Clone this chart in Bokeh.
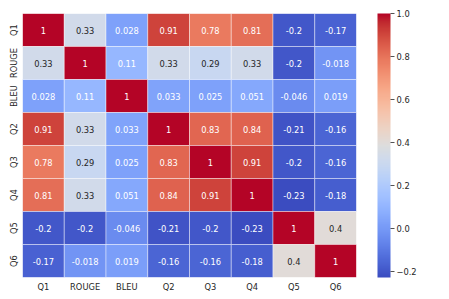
import numpy as np
from bokeh.plotting import figure
from bokeh.models import ColumnDataSource, LinearColorMapper, ColorBar, FixedTicker
from bokeh.embed import file_html
from bokeh.resources import INLINE
from bokeh.core.properties import value

labels = ["Q1", "ROUGE", "BLEU", "Q2", "Q3", "Q4", "Q5", "Q6"]
corr = [
    [1.0, 0.33, 0.028, 0.91, 0.78, 0.81, -0.2, -0.17],
    [0.33, 1.0, 0.11, 0.33, 0.29, 0.33, -0.2, -0.018],
    [0.028, 0.11, 1.0, 0.033, 0.025, 0.051, -0.046, 0.019],
    [0.91, 0.33, 0.033, 1.0, 0.83, 0.84, -0.21, -0.16],
    [0.78, 0.29, 0.025, 0.83, 1.0, 0.91, -0.2, -0.16],
    [0.81, 0.33, 0.051, 0.84, 0.91, 1.0, -0.23, -0.18],
    [-0.2, -0.2, -0.046, -0.21, -0.2, -0.23, 1.0, 0.4],
    [-0.17, -0.018, 0.019, -0.16, -0.16, -0.18, 0.4, 1.0],
]
cbar_ticks = [-0.2, 0.0, 0.2, 0.4, 0.6, 0.8, 1.0]
cbar_tick_labels = ["\u22120.2", "0.0", "0.2", "0.4", "0.6", "0.8", "1.0"]
vmin, vmax = -0.23, 1.0

# coolwarm (Moreland) control points
cw = np.array([
    [59, 76, 192], [68, 90, 204], [77, 104, 215], [87, 117, 225], [98, 130, 234],
    [108, 142, 241], [119, 154, 247], [130, 165, 251], [141, 176, 254], [152, 185, 255],
    [163, 194, 255], [174, 201, 253], [184, 208, 249], [194, 213, 244], [204, 217, 238],
    [213, 219, 230], [221, 221, 221], [229, 216, 209], [236, 211, 197], [241, 204, 184],
    [245, 196, 172], [247, 187, 159], [247, 177, 147], [247, 166, 134], [244, 154, 123],
    [241, 141, 111], [236, 127, 99], [229, 112, 88], [222, 96, 77], [213, 80, 66],
    [203, 62, 56], [192, 40, 47], [180, 4, 38]], dtype=float)
pos = np.linspace(0, 1, len(cw))
t = np.linspace(0, 1, 256)
rgb = np.stack([np.interp(t, pos, cw[:, k]) for k in range(3)], axis=1)
palette = ["#%02x%02x%02x" % tuple(int(round(c)) for c in row) for row in rgb]

def lum(c):
    c = np.asarray(c) / 255.0
    c = np.where(c <= 0.03928, c / 12.92, ((c + 0.055) / 1.055) ** 2.4)
    return float(c @ np.array([0.2126, 0.7152, 0.0722]))

xs, ys, vals, texts, tcols = [], [], [], [], []
for i, row_lab in enumerate(labels):
    for j, col_lab in enumerate(labels):
        v = corr[i][j]
        xs.append(col_lab)
        ys.append(row_lab)
        vals.append(v)
        texts.append("{:.2g}".format(v))
        idx = int(min(255, max(0, (v - vmin) / (vmax - vmin) * 256)))
        tcols.append("#262626" if lum(rgb[idx]) > 0.55 else "#ffffff")

src = ColumnDataSource(dict(x=xs, y=ys, v=vals, t=texts, tc=tcols))
mapper = LinearColorMapper(palette=palette, low=vmin, high=vmax)

FONT = "DejaVu Sans"
FS = "8.3px"
p = figure(x_range=labels, y_range=list(reversed(labels)),
           frame_width=334, frame_height=264,
           min_border_left=22, min_border_top=13, min_border_bottom=0, min_border_right=0,
           toolbar_location=None, output_backend="svg")
p.rect(x="x", y="y", width=1, height=1, source=src,
       fill_color={"field": "v", "transform": mapper},
       line_color="white", line_width=0.6, line_alpha=0.7)
p.text(x="x", y="y", text="t", source=src, text_color="tc",
       text_align="center", text_baseline="middle",
       text_font=value(FONT), text_font_size=FS)

p.outline_line_color = None
p.grid.visible = False
for ax in (p.xaxis[0], p.yaxis[0]):
    ax.axis_line_color = None
    ax.major_tick_line_color = None
    ax.minor_tick_line_color = None
    ax.major_tick_out = 0
    ax.major_tick_in = 0
    ax.minor_tick_out = 0
    ax.major_label_text_font = FONT
    ax.major_label_text_font_size = FS
    ax.major_label_text_color = "#262626"
    ax.major_label_standoff = 4
p.yaxis[0].major_label_orientation = "vertical"

cb = ColorBar(color_mapper=mapper, ticker=FixedTicker(ticks=cbar_ticks),
              major_label_overrides=dict(zip(cbar_ticks, cbar_tick_labels)),
              width=13, height=264, location=(21, 0), padding=0, margin=0,
              major_tick_in=0, major_tick_out=4, major_tick_line_color="#262626",
              major_tick_line_width=0.8, minor_tick_line_color=None,
              bar_line_color=None, border_line_color=None, background_fill_color=None,
              major_label_text_font=FONT, major_label_text_font_size=FS,
              major_label_text_color="#262626", label_standoff=2)
p.add_layout(cb, "right")

open("out.html", "w").write(file_html(p, INLINE))
